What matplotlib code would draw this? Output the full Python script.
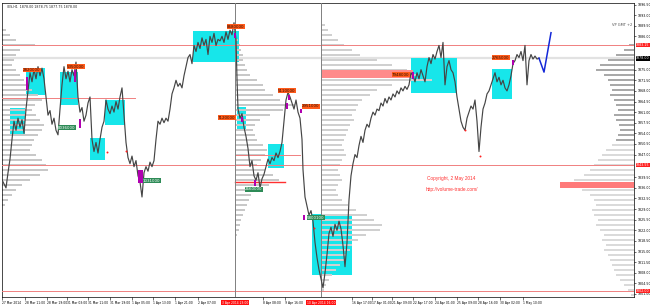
import numpy as np
import matplotlib.pyplot as plt
import matplotlib.transforms as mtransforms

# hourly closes (bar position, price)
bars = [3, 6, 8, 10, 12, 14, 16, 18, 20, 22, 24, 26, 28, 30, 32, 34, 36, 38, 40, 42, 44,
        46, 48, 50, 52, 54, 56, 58, 60, 62, 64, 66, 68, 70, 72, 74, 76, 78, 80, 82, 84,
        86, 88, 90, 92, 94, 96, 98, 100, 102, 104, 106, 108, 110, 112, 114, 116, 118, 120,
        122, 124, 126, 128, 130, 132, 134, 136, 138, 140, 142, 144, 146, 148, 150, 152, 154,
        156, 158, 160, 162, 164, 166, 168, 170, 172, 174, 176, 178, 180, 182, 184, 186, 188,
        190, 192, 194, 196, 198, 200, 202, 204, 206, 208, 210, 212, 214, 216, 218, 220, 222,
        224, 226, 228, 230, 232, 234, 236, 237, 238, 240, 242, 244, 246, 248, 250, 252, 254,
        256, 258, 260, 262, 264, 266, 268, 270, 272, 274, 276, 278, 280, 282, 284, 286, 288,
        290, 292, 294, 296, 298, 300, 302, 303, 305, 307, 309, 311, 313, 315, 317, 319, 321,
        323, 325, 327, 329, 331, 333, 335, 337, 339, 341, 343, 345, 347, 349, 351, 353, 355,
        357, 359, 361, 363, 365, 367, 369, 371, 373, 375, 377, 379, 381, 383, 385, 387, 389,
        391, 393, 395, 397, 399, 401, 403, 405, 407, 409, 411, 413, 415, 417, 419, 421, 423,
        425, 427, 429, 431, 433, 435, 437, 439, 441, 443, 445, 447, 449, 451, 453, 455, 457,
        459, 461, 463, 465, 467, 469, 471, 473, 475, 477, 479, 481, 483, 485, 487, 489, 491,
        493, 495, 497, 499, 501, 503, 505, 507, 509, 511, 513, 515, 517, 519, 521, 523, 525,
        527, 529, 531, 533, 535, 537, 539]
close = [1838.0, 1836.0, 1841.0, 1845.5, 1852.0, 1858.0, 1855.0, 1859.0, 1856.0, 1858.5, 1854.0,
         1862.0, 1868.0, 1874.0, 1871.0, 1875.0, 1872.0, 1876.0, 1873.0, 1875.5, 1872.0,
         1866.0, 1860.0, 1861.5, 1857.0, 1859.0, 1855.0, 1853.5, 1862.0, 1870.0, 1876.0,
         1872.0, 1874.5, 1871.0, 1875.0, 1873.0, 1877.5, 1866.0, 1861.0, 1862.5, 1858.0,
         1860.0, 1864.0, 1866.0, 1852.0, 1848.0, 1851.0, 1847.5, 1852.0, 1856.0, 1858.0,
         1865.0, 1862.0, 1860.5, 1863.0, 1861.0, 1864.5, 1862.0, 1866.0, 1869.0, 1860.0,
         1851.0, 1846.0, 1844.0, 1846.5, 1843.0, 1845.0, 1840.0, 1838.0, 1833.0, 1841.0,
         1843.0, 1841.5, 1844.5, 1843.0, 1845.0, 1852.0, 1858.0, 1857.0, 1859.0, 1857.5,
         1859.0, 1858.0, 1862.0, 1867.0, 1869.0, 1871.5, 1869.5, 1870.5, 1869.0, 1873.0,
         1876.0, 1879.0, 1880.0, 1877.0, 1883.0, 1881.0, 1884.0, 1882.0, 1885.5, 1883.0,
         1885.0, 1880.0, 1886.0, 1884.0, 1887.0, 1883.0, 1885.0, 1884.5, 1886.0, 1884.0,
         1887.5, 1885.0, 1888.0, 1886.5, 1890.5, 1885.0, 1872.0, 1862.0, 1859.0, 1860.5,
         1856.0, 1853.0, 1849.0, 1843.0, 1845.0, 1840.0, 1838.5, 1841.0, 1836.0, 1839.0,
         1840.5, 1843.0, 1845.5, 1844.0, 1846.0, 1845.0, 1847.5, 1846.0, 1848.0, 1851.0,
         1858.0, 1865.0, 1867.5, 1866.0, 1864.0, 1862.0, 1865.0, 1861.0, 1859.0, 1852.0,
         1842.0, 1833.0, 1830.0, 1827.0, 1828.5, 1825.0, 1818.0, 1813.0, 1809.0, 1806.0,
         1803.0, 1808.0, 1814.0, 1821.0, 1823.0, 1820.0, 1824.0, 1822.0, 1825.0, 1822.5,
         1817.0, 1810.0, 1818.0, 1832.0, 1840.0, 1844.0, 1847.0, 1846.0, 1850.0, 1853.0,
         1851.0, 1855.0, 1857.0, 1856.0, 1859.0, 1861.0, 1860.0, 1862.0, 1861.5, 1864.0,
         1863.0, 1865.5, 1864.0, 1866.0, 1865.0, 1867.0, 1866.0, 1868.0, 1867.0, 1869.0,
         1868.0, 1869.5, 1868.5, 1870.0, 1874.0, 1873.0, 1871.0, 1874.0, 1872.0, 1875.0,
         1873.0, 1871.0, 1876.0, 1879.0, 1877.0, 1880.0, 1878.5, 1881.0, 1883.0, 1879.0,
         1884.0, 1870.0, 1876.0, 1878.0, 1875.0, 1874.0, 1871.0, 1866.0, 1862.0, 1858.0,
         1856.0, 1855.0, 1859.0, 1861.0, 1863.0, 1862.0, 1865.0, 1858.0, 1848.0, 1856.0,
         1862.0, 1864.0, 1867.0, 1868.0, 1870.0, 1872.0, 1874.0, 1871.0, 1872.5, 1870.0,
         1871.5, 1869.0, 1868.0, 1870.0, 1873.0, 1877.0, 1878.0, 1880.0, 1879.0, 1881.0,
         1878.0, 1883.0, 1870.0, 1878.0, 1880.0, 1878.5, 1879.5, 1878.5, 1878.8]

# projection drawn in blue
proj_x = [539, 544, 551]
proj_p = [1878.8, 1874.2, 1887.2]

# cyan zones
box_x0 = [10, 26, 60, 90, 105, 193, 237, 268, 312, 411, 492]
box_x1 = [25, 45, 78, 105, 125, 239, 246, 284, 352, 457, 512]
box_top = [1862.4, 1875.5, 1874.2, 1852.5, 1865.0, 1887.8, 1862.7, 1850.5, 1827.4, 1878.9, 1875.2]
box_bot = [1853.5, 1866.6, 1863.3, 1845.2, 1856.8, 1877.5, 1855.1, 1842.6, 1807.3, 1867.3, 1865.3]

# magenta volume spikes
mag_x = [27, 75, 80, 140, 235, 242, 255, 289, 287, 301, 304, 413, 513]
mag_w = [2.5, 2.5, 2.5, 5, 2.5, 2.5, 2.5, 2.5, 2.5, 2.5, 2.5, 2.5, 2.5]
mag_top = [1872.6, 1874.9, 1858.7, 1841.9, 1887.1, 1859.4, 1838.6, 1866.6, 1864.0, 1862.0, 1827.1, 1874.2, 1878.2]
mag_bot = [1868.3, 1870.9, 1855.8, 1837.6, 1885.6, 1857.7, 1836.6, 1865.0, 1862.0, 1860.7, 1825.4, 1871.9, 1876.5]

# volume tags
tag_text = ["2820000", "5350000", "8036000", "1031000", "8680000", "7120000",
            "5110000", "2951000", "2660000", "5800100", "7948000", "2765000"]
tag_x = [23, 67, 58, 143, 227, 218, 278, 302, 245, 307, 392, 492]
tag_p = [1874.9, 1875.9, 1855.8, 1838.3, 1889.1, 1859.1, 1868.0, 1863.0, 1835.6, 1826.1, 1873.3, 1878.9]
tag_buy = [False, False, True, True, False, False, False, False, True, True, False, False]

# small red dots
dot_x = [107, 126, 314, 465, 480]
dot_p = [1848.0, 1848.2, 1822.8, 1855.0, 1846.5]

# volume profiles (bins 1.65 apart, lengths in bars)
profA_top = 1888.1
profA = [4, 8, 14, 33, 18, 14, 12, 10, 14, 18, 22, 26, 30, 36, 40, 33, 30, 34, 38, 42,
         40, 36, 32, 30, 28, 34, 40, 44, 46, 38, 28, 20, 14, 10, 6, 3]
profB_top = 1884.8
profB = [3, 5, 6, 8, 8, 10, 12, 15, 22, 28, 30, 38, 45, 60, 48, 35, 25, 20, 18, 20,
         22, 28, 32, 30, 26, 22, 30, 38, 44, 34, 24, 16, 14, 12, 10, 8, 6, 5, 4, 2]
profC_top = 1889.75
profC = [3, 6, 10, 16, 22, 30, 38, 55, 70, 85, 95, 110, 70, 55, 48, 40, 36, 34, 30, 32,
         28, 26, 24, 22, 20, 22, 24, 20, 18, 16, 18, 20, 16, 14, 16, 20, 26, 34, 45, 52,
         60, 58, 44, 36, 30, 28, 24, 22, 18, 14, 10, 7, 4, 2]
profD_top = 1883.15
profD = [5, 10, 18, 26, 34, 38, 30, 26, 24, 22, 24, 20, 18, 16, 20, 18, 15, 14, 16, 18,
         22, 28, 32, 36, 40, 44, 50, 60, 66, 52, 44, 40, 38, 42, 40, 36, 38, 34, 30, 32,
         28, 30, 26, 24, 22, 20, 18, 14, 10, 6, 3]

# horizontal levels
lvl_x0 = [2, 2, 2, 2, 235]
lvl_x1 = [634, 634, 634, 135, 300]
lvl_p = [1883.15, 1843.55, 1802.0, 1865.65, 1846.85]
axis_tags = [1883.15, 1843.55, 1802.0]
last_price = 1878.8

price_ticks = [1801.0, 1804.5, 1808.0, 1811.5, 1815.0, 1818.5, 1822.0, 1825.5, 1829.0,
               1832.5, 1836.0, 1839.5, 1847.0, 1850.5, 1854.0, 1857.5, 1861.0, 1864.5,
               1868.0, 1871.5, 1875.0, 1886.0, 1889.5, 1893.0, 1896.5]

vlines = [235, 321]
vline_text = ["3 Apr 2014 23:00", "10 Apr 2014 16:00"]

date_x = [2, 25, 47, 67, 88, 110, 132, 153, 175, 198, 263, 285, 352, 372, 392, 413,
          435, 457, 478, 500, 523]
date_lbl = ["27 Mar 2014", "28 Mar 11:00", "28 Mar 19:00", "31 Mar 03:00", "31 Mar 11:00",
            "31 Mar 19:00", "1 Apr 05:00", "1 Apr 13:00", "1 Apr 21:00", "2 Apr 07:00",
            "8 Apr 08:00", "9 Apr 16:00", "16 Apr 17:00", "17 Apr 01:00", "21 Apr 09:00",
            "22 Apr 17:00", "24 Apr 01:00", "25 Apr 09:00", "28 Apr 16:00", "30 Apr 02:00",
            "1 May 10:00"]

fig = plt.figure(figsize=(6.5, 3.05), dpi=100)
ax = fig.add_axes([2 / 650, 8 / 305, 632 / 650, 294 / 305])
ax.set_xlim(2, 634)
ax.set_ylim(1800, 1897)

step = 1.65
bh = 0.75
# current price band
ax.axhline(last_price, color='#e2e2e2', lw=1.6, zorder=0)

# zones
ax.bar(box_x0, np.array(box_top) - np.array(box_bot), width=np.array(box_x1) - np.array(box_x0),
       bottom=box_bot, align='edge', color='#17e6ea', lw=0, zorder=1)

# profiles
lv = profA_top - step * np.arange(len(profA))
ax.barh(lv, profA, left=2, height=bh, color='#c8c8c8', lw=0, zorder=2)
lv = profB_top - step * np.arange(len(profB))
ax.barh(lv, profB, left=235, height=bh, color='#c8c8c8', lw=0, zorder=2)
lv = profC_top - step * np.arange(len(profC))
ax.barh(lv, profC, left=322, height=bh, color='#d0d0d0', lw=0, zorder=2)
lv = profD_top - step * np.arange(len(profD))
cols = ['#a9a9a9' if i < 20 else '#dadada' for i in range(len(profD))]
ax.barh(lv, -np.array(profD), left=634, height=bh, color=cols, lw=0, zorder=2)

# red value-area bands
ax.barh(1873.6, 91, left=322, height=2.4, color='#ff8a8a', lw=0, zorder=2.5)
ax.barh(1836.9, -74, left=634, height=2.0, color='#ff7a7a', lw=0, zorder=2.5)
ax.plot([235, 285], [1837.9, 1837.9], color='#ff3030', lw=1.0, zorder=2.5)

for x0, x1, p in zip(lvl_x0, lvl_x1, lvl_p):
    ax.plot([x0, x1], [p, p], color='#f08080', lw=0.7, zorder=3)
for v in vlines:
    ax.axvline(v, color='#808080', lw=0.7, zorder=3)

# price
ax.plot(bars, close, color='#454545', lw=0.85, zorder=4)
ax.plot(proj_x, proj_p, color='#1428d8', lw=1.1, zorder=4)

ax.bar(mag_x, np.array(mag_top) - np.array(mag_bot), width=mag_w, bottom=mag_bot,
       color='#b000b0', lw=0, zorder=5)
ax.scatter(dot_x, dot_p, s=2, color='#ff2020', zorder=5, lw=0)

for t, x, p, buy in zip(tag_text, tag_x, tag_p, tag_buy):
    ax.text(x, p, t, fontsize=2.9, va='center', ha='left', zorder=6,
            color='white' if buy else '#301000',
            bbox=dict(boxstyle='square,pad=0.12', fc='#2e8b57' if buy else '#ff5a1a', ec='none'))

ax.text(427, 1838.6, "Copyright, 2 May 2014", fontsize=3.4, color='#ff3030',
        family='Liberation Sans', zorder=6)
ax.text(426, 1836.2, "http://volume-trade.com/", fontsize=3.4, color='#ff3030',
        family='Liberation Sans', va='top', zorder=6)
ax.text(612, 1889.5, "VP GMT +2", fontsize=2.6, color='#505050', zorder=6)
ax.text(0.008, 0.993, "/ES,H1  1878.00 1878.75 1877.75 1878.00", transform=ax.transAxes,
        fontsize=2.3, va='top', color='#202020')

# axes
ax.yaxis.tick_right()
ax.set_yticks(price_ticks)
ax.set_yticklabels([f"{v:.2f}" for v in price_ticks])
ax.tick_params(axis='y', labelsize=2.3, length=1.5, width=0.4, pad=1)
ax.set_xticks(date_x)
ax.set_xticklabels(date_lbl, fontsize=2.2, ha='left')
ax.tick_params(axis='x', length=2, width=0.4, pad=1)
for s in ax.spines.values():
    s.set_linewidth(0.5)

yt = mtransforms.blended_transform_factory(ax.transAxes, ax.transData)
for p in axis_tags:
    ax.text(1.003, p, f"{p:.2f}", transform=yt, fontsize=2.3, color='white', va='center',
            bbox=dict(boxstyle='square,pad=0.12', fc='#ff2020', ec='none'), clip_on=False)
ax.text(1.003, last_price, "1878.00", transform=yt, fontsize=2.3, color='white', va='center',
        bbox=dict(boxstyle='square,pad=0.12', fc='black', ec='none'), clip_on=False)

xt = mtransforms.blended_transform_factory(ax.transData, ax.transAxes)
for v, t in zip(vlines, vline_text):
    ax.text(v, -0.012, t, transform=xt, fontsize=2.2, color='white', ha='center', va='top',
            bbox=dict(boxstyle='square,pad=0.12', fc='#ff1010', ec='none'), clip_on=False)

fig.savefig('out.png', dpi=100, facecolor='white')
